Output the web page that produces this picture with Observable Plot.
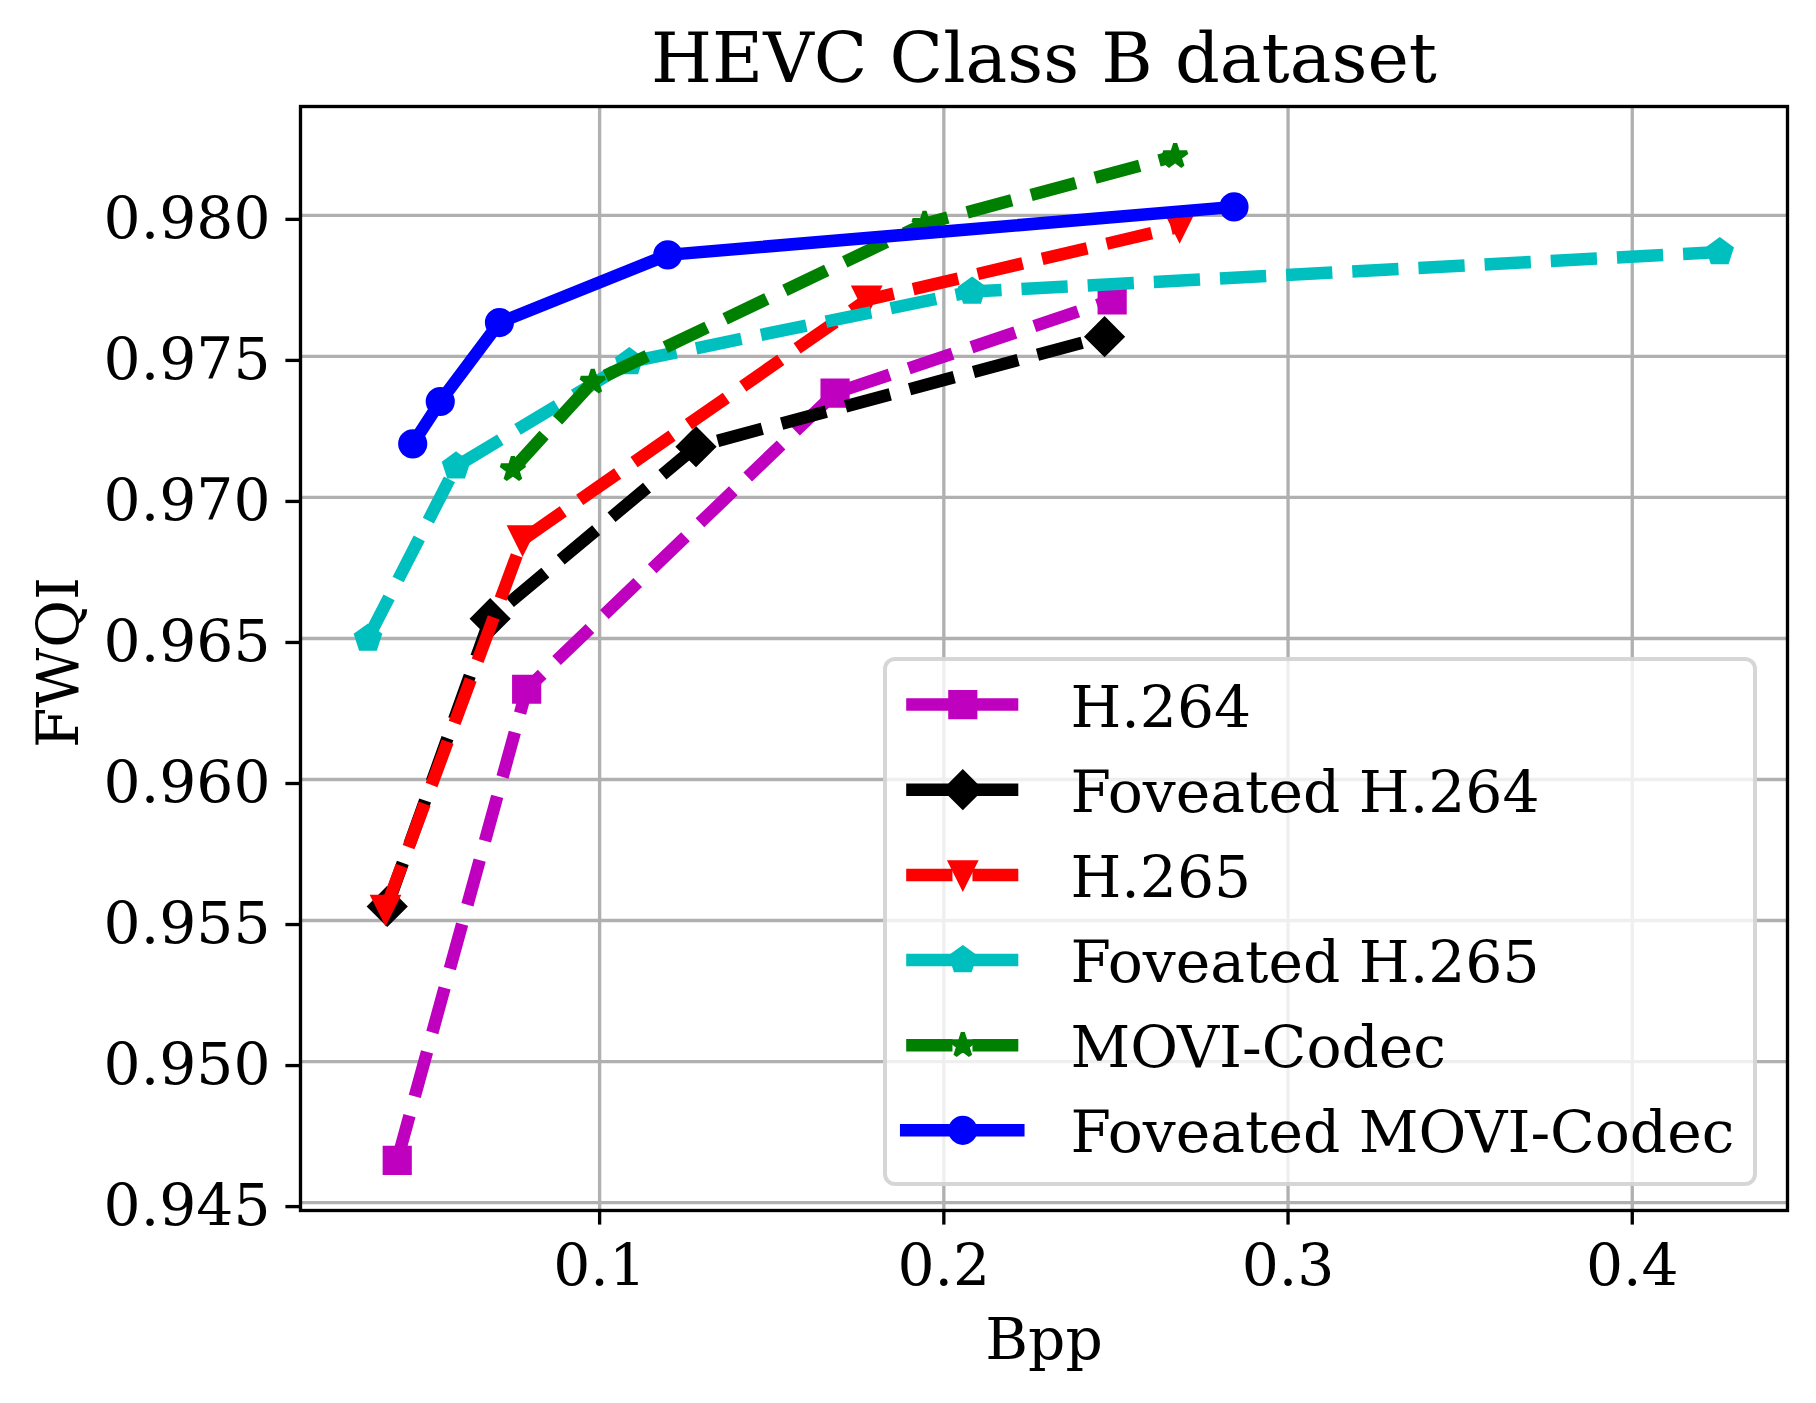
<!DOCTYPE html>
<html><head><meta charset="utf-8">
<script src="https://cdn.jsdelivr.net/npm/d3@7"></script>
<script src="https://cdn.jsdelivr.net/npm/@observablehq/plot@0.6"></script>
<style>
html,body{margin:0;padding:0;background:#fff;}
#wrap{position:relative;width:1816px;height:1403px;overflow:hidden;}
#legend{position:absolute;left:883px;top:657px;width:874px;height:529px;box-sizing:border-box;border:4.17px solid rgba(204,204,204,0.8);border-radius:12px;background:rgba(255,255,255,0.8);}
#legend svg{display:block;}
</style></head><body><div id="wrap"><div id="chart"></div><div id="legend"></div></div>
<script>
// ---- data ----
const seriesNames = ["H.264", "Foveated H.264", "H.265", "Foveated H.265", "MOVI-Codec", "Foveated MOVI-Codec"];
const bppH264 = [0.0412, 0.0788, 0.1684, 0.2489];
const fwqiH264 = [0.9465, 0.9632, 0.9737, 0.9770];
const bppFovH264 = [0.0383, 0.0682, 0.1280, 0.2467];
const fwqiFovH264 = [0.9555, 0.9657, 0.9718, 0.9757];
const bppH265 = [0.0378, 0.0776, 0.1776, 0.2685];
const fwqiH265 = [0.9554, 0.9685, 0.9770, 0.9796];
const bppFovH265 = [0.0327, 0.0583, 0.1086, 0.2082, 0.4254];
const fwqiFovH265 = [0.9650, 0.9711, 0.9748, 0.9773, 0.9787];
const bppMOVI = [0.0748, 0.0980, 0.1944, 0.2672];
const fwqiMOVI = [0.9710, 0.9741, 0.9797, 0.9821];
const bppFovMOVI = [0.0457, 0.0537, 0.0709, 0.1198, 0.2843];
const fwqiFovMOVI = [0.9719, 0.9734, 0.9762, 0.9786, 0.9803];
const xTicks = [0.1, 0.2, 0.3, 0.4];
const yTicks = [0.945, 0.950, 0.955, 0.960, 0.965, 0.970, 0.975, 0.980];
const xDomain = [0.0131, 0.4451];
const yDomain = [0.94472, 0.98386];
const titleText = "HEVC Class B dataset";
const xLabel = "Bpp";
const yLabel = "FWQI";

const bppSeries = [bppH264, bppFovH264, bppH265, bppFovH265, bppMOVI, bppFovMOVI];
const fwqiSeries = [fwqiH264, fwqiFovH264, fwqiH265, fwqiFovH265, fwqiMOVI, fwqiFovMOVI];
const rows = seriesNames.flatMap((name, i) => bppSeries[i].map((x, j) => ({series: name, x, y: fwqiSeries[i][j]})));

// ---- marker shapes (matplotlib-like) ----
const sym = (fn) => ({draw(c, size) { const h = Math.sqrt(size / Math.PI); fn(c, h); }});
const mCircle = sym((c, h) => { c.moveTo(h, 0); c.arc(0, 0, h, 0, 2 * Math.PI); c.closePath(); });
const mSquare = sym((c, h) => { c.moveTo(-h, -h); c.lineTo(h, -h); c.lineTo(h, h); c.lineTo(-h, h); c.closePath(); });
const mDiamond = sym((c, h) => { const d = h * Math.SQRT2; c.moveTo(0, -d); c.lineTo(d, 0); c.lineTo(0, d); c.lineTo(-d, 0); c.closePath(); });
const mTriDown = sym((c, h) => { c.moveTo(0, h); c.lineTo(-h, -h); c.lineTo(h, -h); c.closePath(); });
const mPentagon = sym((c, h) => { for (let k = 0; k < 5; k++) { const a = -Math.PI / 2 + k * 2 * Math.PI / 5; const px = h * Math.cos(a), py = h * Math.sin(a); k ? c.lineTo(px, py) : c.moveTo(px, py); } c.closePath(); });
const mStar = sym((c, h) => { for (let k = 0; k < 10; k++) { const a = -Math.PI / 2 + k * Math.PI / 5; const rr = k % 2 ? h * 0.381966 : h; const px = rr * Math.cos(a), py = rr * Math.sin(a); k ? c.lineTo(px, py) : c.moveTo(px, py); } c.closePath(); });

const styles = {
  "H.264": {color: "#bf00bf", symbol: mSquare, dashed: true, join: "miter"},
  "Foveated H.264": {color: "#000000", symbol: mDiamond, dashed: true, join: "miter"},
  "H.265": {color: "#ff0000", symbol: mTriDown, dashed: true, join: "miter"},
  "Foveated H.265": {color: "#00bfbf", symbol: mPentagon, dashed: true, join: "miter"},
  "MOVI-Codec": {color: "#008000", symbol: mStar, dashed: true, join: "bevel"},
  "Foveated MOVI-Codec": {color: "#0000ff", symbol: mCircle, dashed: false, join: "round"}
};
const LW = 12.5, MR = 12.5, MEW = 4.17, DASH = "46.25,20";
const FONT = "DejaVu Serif";
const lineStyle = (s) => ({stroke: s.color, strokeWidth: LW, strokeDasharray: s.dashed ? DASH : null, strokeLinecap: s.dashed ? "butt" : "square", strokeLinejoin: "round"});
const dotStyle = (s) => ({symbol: s.symbol, r: MR, fill: s.color, stroke: s.color, strokeWidth: MEW, strokeLinejoin: s.join});

const seriesMarks = seriesNames.flatMap(name => {
  const s = styles[name];
  const d = rows.filter(r => r.series === name);
  return [
    Plot.line(d, {x: "x", y: "y", ...lineStyle(s)}),
    Plot.dot(d, {x: "x", y: "y", ...dotStyle(s)})
  ];
});

const chart = Plot.plot({
  width: 1816, height: 1403,
  marginLeft: 300, marginRight: 29, marginTop: 106, marginBottom: 193,
  style: {fontFamily: FONT, background: "#fff"},
  x: {domain: xDomain},
  y: {domain: yDomain},
  marks: [
    Plot.gridX({ticks: xTicks, stroke: "#b0b0b0", strokeOpacity: 1, strokeWidth: 3.33}),
    Plot.gridY({ticks: yTicks, stroke: "#b0b0b0", strokeOpacity: 1, strokeWidth: 3.33}),
    ...seriesMarks,
    Plot.frame({stroke: "#000", strokeWidth: 3.33}),
    Plot.axisX({ticks: xTicks, tickFormat: d3.format(".1f"), tickSize: 14.6, tickPadding: 18, stroke: "#000", strokeWidth: 3.33, fontSize: 58.3, fontFamily: FONT, label: null}),
    Plot.axisY({ticks: yTicks, tickFormat: d3.format(".3f"), tickSize: 14.6, tickPadding: 15.4, stroke: "#000", strokeWidth: 3.33, fontSize: 58.3, fontFamily: FONT, label: null, dy: 4}),
    Plot.text([titleText], {text: d => d, frameAnchor: "top", textAnchor: "middle", dy: -24.3, lineAnchor: "bottom", fontSize: 70, fontFamily: FONT, fill: "#000"}),
    Plot.text([xLabel], {text: d => d, frameAnchor: "bottom", textAnchor: "middle", dy: 148, lineAnchor: "bottom", fontSize: 58.3, fontFamily: FONT, fill: "#000"}),
    Plot.text([yLabel], {text: d => d, frameAnchor: "left", textAnchor: "middle", rotate: -90, dx: -223, dy: 4, lineAnchor: "bottom", fontSize: 58.3, fontFamily: FONT, fill: "#000"})
  ]
});
document.getElementById("chart").appendChild(chart);

// ---- legend (separate small Plot over the axes) ----
const legendRows = seriesNames.map((name, i) => ({name, i}));
const legend = Plot.plot({
  width: 866, height: 521, margin: 0,
  style: {background: "transparent", fontFamily: FONT, overflow: "visible"},
  x: {domain: [0, 866], range: [0, 866], axis: null},
  y: {domain: [0, 5], range: [43.1, 468.8], axis: null},
  marks: legendRows.flatMap(r => {
    const s = styles[r.name];
    return [
      Plot.ruleY([r], {y: "i", x1: () => 19.2, x2: () => 131.3, ...lineStyle(s)}),
      Plot.dot([r], {x: () => 75.3, y: "i", ...dotStyle(s)}),
      Plot.text([r], {x: () => 183, y: "i", text: "name", textAnchor: "start", lineAnchor: "bottom", dy: 22, fontSize: 58.3, fontFamily: FONT, fill: "#000"})
    ];
  })
});
document.getElementById("legend").appendChild(legend);
</script></body></html>
